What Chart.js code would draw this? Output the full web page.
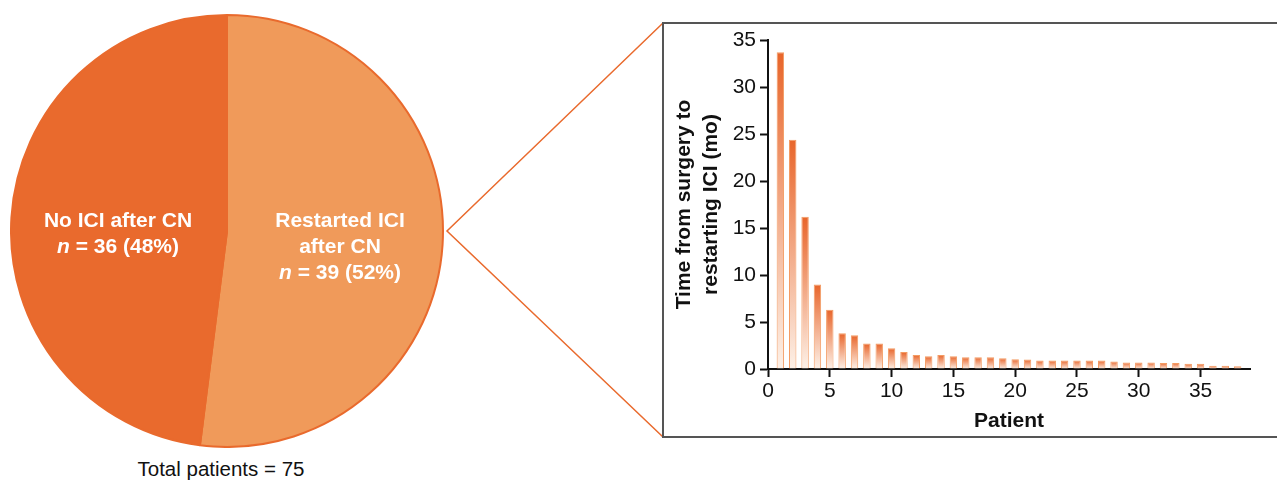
<!DOCTYPE html>
<html>
<head>
<meta charset="utf-8">
<script src="https://cdn.jsdelivr.net/npm/chart.js@4/dist/chart.umd.min.js"></script>
<style>
  body { margin: 0; background: #fff; width: 1277px; height: 481px; overflow: hidden; position: relative; font-family: "Liberation Sans", Arial, sans-serif; }
  #pieWrap { position: absolute; left: 10px; top: 14px; width: 434px; height: 434px; }
  #barBox { position: absolute; left: 662px; top: 22px; width: 640px; height: 412px; border: 2px solid #555; border-right: none; }
  #barWrap { position: absolute; left: 663px; top: 23px; width: 614px; height: 414px; }
  .lbl { position: absolute; color: #fff; font-weight: bold; font-size: 21px; text-align: center; line-height: 26px; }
  #total { position: absolute; left: 100px; top: 457px; width: 242px; text-align: center; font-size: 20.5px; color: #111; }
  svg { position: absolute; left: 0; top: 0; }
</style>
</head>
<body>
<svg width="1277" height="481">
  <polyline points="663,23 447,231 663,437" fill="none" stroke="#e96a2d" stroke-width="1.5"/>
</svg>
<div id="barBox"></div>
<div id="pieWrap"><canvas id="pieChart"></canvas></div>
<div id="barWrap"><canvas id="barChart"></canvas></div>
<div class="lbl" style="left:18px; top:207px; width:200px;">No ICI after CN<br><i>n</i> = 36 (48%)</div>
<div class="lbl" style="left:240px; top:207px; width:200px;">Restarted ICI<br>after CN<br><i>n</i> = 39 (52%)</div>
<div id="total">Total patients = 75</div>
<script>
// pie data
const groupLabels = ['Restarted ICI after CN', 'No ICI after CN'];
const groupCounts = [39, 36];
const groupColors = ['#f09a5a', '#e96a2d'];

// bar data: months from surgery to restarting ICI, per patient
const patients = [1,2,3,4,5,6,7,8,9,10,11,12,13,14,15,16,17,18,19,20,21,22,23,24,25,26,27,28,29,30,31,32,33,34,35,36,37,38];
const months = [33.7,24.4,16.2,9.0,6.3,3.8,3.6,2.7,2.7,2.2,1.8,1.5,1.35,1.5,1.35,1.25,1.25,1.25,1.15,1.05,1.0,0.9,0.9,0.9,0.9,0.9,0.9,0.8,0.7,0.7,0.7,0.65,0.65,0.55,0.55,0.35,0.35,0.3];
const yTicks = [0, 5, 10, 15, 20, 25, 30, 35];
const xTicks = [0, 5, 10, 15, 20, 25, 30, 35];

new Chart(document.getElementById('pieChart'), {
  type: 'pie',
  data: {
    labels: groupLabels,
    datasets: [{
      data: groupCounts,
      backgroundColor: groupColors,
      borderColor: '#e96a2d',
      borderWidth: 2
    }]
  },
  options: {
    responsive: true,
    maintainAspectRatio: false,
    animation: false,
    plugins: { legend: { display: false }, tooltip: { enabled: false } }
  }
});

const tickFont = { family: 'Liberation Sans', size: 21 };
const titleFont = { family: 'Liberation Sans', size: 21, weight: 'bold' };

function barFill(ctx) {
  if (ctx.type !== 'data') return '#e96a2d';
  const chart = ctx.chart;
  const y = chart.scales.y;
  if (!y || y.top === undefined) return '#e96a2d';
  const top = y.getPixelForValue(ctx.parsed.y);
  const bottom = y.getPixelForValue(0);
  if (!isFinite(top) || !isFinite(bottom) || top === bottom) return '#e96a2d';
  const g = chart.ctx.createLinearGradient(0, top, 0, bottom);
  g.addColorStop(0, '#e8652a');
  g.addColorStop(1, '#fdf1e8');
  return g;
}

new Chart(document.getElementById('barChart'), {
  type: 'bar',
  data: {
    datasets: [{
      data: patients.map((p, i) => ({ x: p, y: months[i] })),
      backgroundColor: barFill,
      borderColor: '#f39b62',
      borderWidth: 1,
      barPercentage: 0.6,
      categoryPercentage: 1
    }]
  },
  options: {
    responsive: true,
    maintainAspectRatio: false,
    animation: false,
    layout: { padding: { left: 0, right: 27, top: 17, bottom: 0 } },
    plugins: { legend: { display: false }, tooltip: { enabled: false } },
    scales: {
      x: {
        type: 'linear',
        min: 0,
        max: 39,
        offset: false,
        afterFit: (s) => { s.height = 68; },
        afterBuildTicks: (s) => { s.ticks = xTicks.map(v => ({ value: v })); },
        ticks: { font: tickFont, color: '#111', padding: 2, maxRotation: 0 },
        grid: { drawOnChartArea: false, offset: false, tickLength: 8, tickWidth: 2, color: '#111' },
        border: { color: '#111', width: 2 },
        title: { display: true, text: 'Patient', font: titleFont, color: '#111', padding: { top: 0, bottom: 3 } }
      },
      y: {
        min: 0,
        max: 35,
        afterFit: (s) => { s.width = 105; },
        afterBuildTicks: (s) => { s.ticks = yTicks.map(v => ({ value: v })); },
        ticks: { font: tickFont, color: '#111', padding: 4 },
        grid: { drawOnChartArea: false, tickLength: 8, tickWidth: 2, color: '#111' },
        border: { color: '#111', width: 2 },
        title: { display: true, text: ['Time from surgery to', 'restarting ICI (mo)'], font: { family: 'Liberation Sans', size: 21, weight: 'bold', lineHeight: 1.29 }, color: '#111', padding: { top: 8, bottom: 0 } }
      }
    }
  }
});
</script>
</body>
</html>
